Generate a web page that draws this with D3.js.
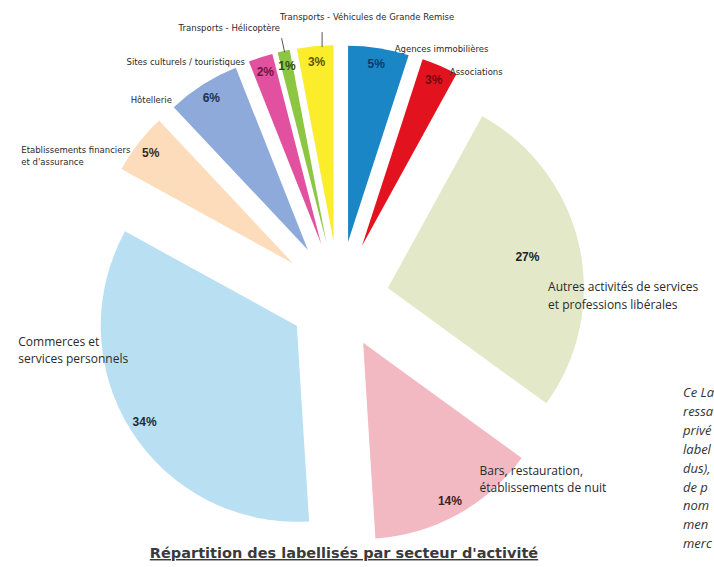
<!DOCTYPE html>
<html>
<head>
<meta charset="utf-8">
<script src="https://cdn.jsdelivr.net/npm/d3@7"></script>
<style>
  body { margin: 0; background: #fff; }
  svg { display: block; }
</style>
</head>
<body>
<svg id="pie"></svg>
<script>
// secteurs, dans l'ordre du graphique (sens horaire depuis midi)
const categories = [
  "Agences immobilières",
  "Associations",
  "Autres activités de services et professions libérales",
  "Bars, restauration, établissements de nuit",
  "Commerces et services personnels",
  "Etablissements financiers et d'assurance",
  "Hôtellerie",
  "Sites culturels / touristiques",
  "Transports - Hélicoptère",
  "Transports - Véhicules de Grande Remise"
];
const values = [5, 3, 27, 14, 34, 5, 6, 2, 1, 3];
const nameLines = [
  ["Agences immobilières"],
  ["Associations"],
  ["Autres activités de services", "et professions libérales"],
  ["Bars, restauration,", "établissements de nuit"],
  ["Commerces et", "services personnels"],
  ["Etablissements financiers", "et d'assurance"],
  ["Hôtellerie"],
  ["Sites culturels / touristiques"],
  ["Transports - Hélicoptère"],
  ["Transports - Véhicules de Grande Remise"]
];
const sideText = ["Ce La", "ressa", "privé", "label", "dus),", "de p", "nom", "men", "merc"];

const fills = ["#1a86c6", "#e3121f", "#e3e8c8", "#f2b9c3", "#b9dff3", "#fddcbb", "#8eaadb", "#e2519f", "#8dc641", "#fbed2c"];
const pctColors = ["#0a3d66", "#6b0a10", "#222222", "#3b2224", "#1d2b38", "#3d2a14", "#1f3050", "#6b1645", "#2f4d12", "#5f5300"];

const width = 714, height = 567;
const cx = 339, cy = 299, R = 196;

const svg = d3.select("#pie").attr("width", width).attr("height", height);

const pie = d3.pie().sort(null).value(d => d)(values);
const arc = d3.arc().innerRadius(0).outerRadius(R);

// décalage (éclatement) : plus fort pour les petites parts
const explode = v => v >= 14 ? 50 : 58;
const mid = d => (d.startAngle + d.endAngle) / 2;
const polar = (a, r) => [r * Math.sin(a), -r * Math.cos(a)];

const g = svg.append("g").attr("transform", `translate(${cx},${cy})`);

const slices = g.selectAll("g.slice")
  .data(pie)
  .join("g")
  .attr("class", "slice")
  .attr("transform", d => {
    const [x, y] = polar(mid(d), explode(d.data));
    return `translate(${x},${y})`;
  });

slices.append("path")
  .attr("d", arc)
  .attr("fill", (d, i) => fills[i]);

// pourcentages
slices.append("text")
  .attr("x", d => polar(mid(d), R * (d.data === 27 ? 0.73 : 0.92))[0])
  .attr("y", d => polar(mid(d), R * (d.data === 27 ? 0.73 : 0.92))[1])
  .attr("text-anchor", "middle")
  .attr("dominant-baseline", "central")
  .attr("font-family", "Liberation Sans, Arial, sans-serif")
  .attr("font-weight", "bold")
  .attr("font-size", 12)
  .attr("fill", (d, i) => pctColors[i])
  .text(d => d.data + "%");

// étiquettes : décalage depuis le bord extérieur de la part
const nameLayout = [
  { dx: 16, dy: 4, anchor: "start", size: 8.5, lh: 11 },
  { dx: 10, dy: 9, anchor: "start", size: 8.5, lh: 11 },
  { dx: -31, dy: 46, anchor: "start", size: 12, lh: 18 },
  { dx: 22, dy: -40, anchor: "start", size: 12, lh: 17 },
  { dx: -113, dy: -85, anchor: "start", size: 12, lh: 17 },
  { dx: -117, dy: 10, anchor: "start", size: 8.5, lh: 12 },
  { dx: -31, dy: 18.5, anchor: "end", size: 8.5, lh: 11 },
  { dx: -15.5, dy: 8, anchor: "end", size: 8.5, lh: 11 },
  { dx: -3.5, dy: -20, anchor: "end", size: 8.5, lh: 11, leader: [[1, 1], [-2, -13]] },
  { dx: -35, dy: -26.5, anchor: "start", size: 8.5, lh: 11, leader: [[7, 1], [7, -14]] }
];

slices.each(function (d, i) {
  const L = nameLayout[i];
  const [ox, oy] = polar(mid(d), R);
  const sel = d3.select(this);
  if (L.leader) {
    sel.append("line")
      .attr("x1", ox + L.leader[0][0]).attr("y1", oy + L.leader[0][1])
      .attr("x2", ox + L.leader[1][0]).attr("y2", oy + L.leader[1][1])
      .attr("stroke", "#555").attr("stroke-width", 1);
  }
  const t = sel.append("text")
    .attr("x", ox + L.dx)
    .attr("y", oy + L.dy)
    .attr("text-anchor", L.anchor)
    .attr("font-family", L.size > 10 ? "Open Sans, sans-serif" : "DejaVu Sans, sans-serif")
    .attr("font-size", L.size)
    .attr("fill", "#2a2a2a");
  nameLines[i].forEach((line, k) => {
    t.append("tspan")
      .attr("x", ox + L.dx)
      .attr("dy", k === 0 ? 0 : L.lh)
      .text(line);
  });
});

// titre
svg.append("text")
  .attr("x", 344)
  .attr("y", 558)
  .attr("text-anchor", "middle")
  .attr("font-family", "DejaVu Sans, sans-serif")
  .attr("font-weight", "bold")
  .attr("font-size", 14.5)
  .attr("fill", "#3a3a3a")
  .attr("text-decoration", "underline")
  .text("Répartition des labellisés par secteur d'activité");

// texte de la colonne voisine (coupé par le bord)
svg.append("g")
  .selectAll("text")
  .data(sideText)
  .join("text")
  .attr("x", 683)
  .attr("y", (d, i) => 397 + i * 18.9)
  .attr("font-family", "Open Sans, sans-serif")
  .attr("font-style", "italic")
  .attr("font-size", 13)
  .attr("fill", "#333")
  .text(d => d);
</script>
</body>
</html>
